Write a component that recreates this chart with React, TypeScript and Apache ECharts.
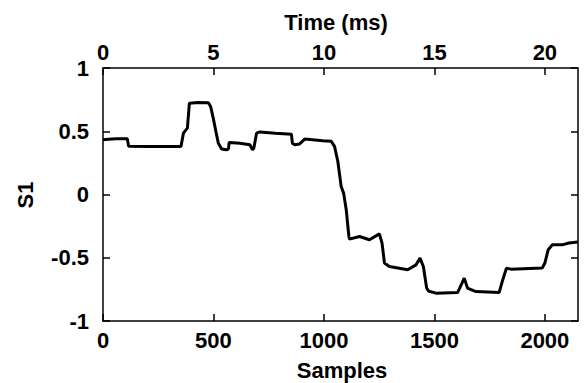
import React, { useEffect, useRef } from "react";
import * as echarts from "echarts";

const samples = [
  0, 40, 60, 110, 116, 200, 353, 364, 382, 391, 430, 477, 487, 499, 511, 522, 537, 559, 568, 571,
  620, 665, 677, 683, 695, 710, 780, 853, 857, 868, 890, 913, 995, 1033, 1048, 1063, 1078, 1089,
  1101, 1113, 1116, 1161, 1206, 1251, 1263, 1274, 1296, 1379, 1417, 1435, 1450, 1465, 1475, 1507,
  1605, 1625, 1635, 1650, 1688, 1793, 1805, 1826, 1846, 1988, 2000, 2015, 2034, 2078, 2109, 2150,
];
const s1Values = [
  0.432, 0.438, 0.44, 0.44, 0.382, 0.38, 0.38, 0.485, 0.525, 0.722, 0.728, 0.725, 0.696, 0.604,
  0.498, 0.406, 0.359, 0.353, 0.36, 0.411, 0.405, 0.393, 0.353, 0.37, 0.485, 0.495, 0.485, 0.477,
  0.406, 0.393, 0.4, 0.438, 0.425, 0.42, 0.38, 0.261, 0.063, 0.011, -0.121, -0.332, -0.353, -0.332,
  -0.358, -0.311, -0.384, -0.542, -0.569, -0.595, -0.556, -0.503, -0.569, -0.74, -0.765, -0.78,
  -0.775, -0.7, -0.661, -0.74, -0.767, -0.775, -0.7, -0.582, -0.59, -0.582, -0.542, -0.437, -0.398,
  -0.398, -0.384, -0.376,
];
const sampleRange = [0, 2150];
const timeRange = [0, 21.5];
const s1Range = [-1, 1];

const FONT = "'Liberation Sans', Arial, Helvetica, sans-serif";
const labelStyle = { color: "#000", fontFamily: FONT, fontWeight: "bold" as const, fontSize: 22 };
const lineStyle = { color: "#000", width: 1.5 };
const plain = (v: number) => String(v);

export default function App() {
  const ref = useRef<HTMLDivElement>(null);
  useEffect(() => {
    if (!ref.current) return;
    const chart = echarts.init(ref.current, null, { renderer: "svg" });
    const data = samples.map((s, i) => [s, s1Values[i]]);
    chart.setOption({
      animation: false,
      backgroundColor: "#fff",
      grid: { left: 103, right: 7, top: 68, bottom: 62, containLabel: false },
      xAxis: [
        {
          type: "value",
          position: "bottom",
          min: sampleRange[0],
          max: sampleRange[1],
          interval: 500,
          axisLine: { show: true, onZero: false, lineStyle },
          axisTick: { show: true, inside: true, length: 7, lineStyle },
          axisLabel: { ...labelStyle, margin: 8, showMaxLabel: false, formatter: plain },
          splitLine: { show: false },
        },
        {
          type: "value",
          position: "top",
          min: timeRange[0],
          max: timeRange[1],
          interval: 5,
          axisLine: { show: true, onZero: false, lineStyle },
          axisTick: { show: true, inside: true, length: 7, lineStyle },
          axisLabel: { ...labelStyle, margin: 5, showMaxLabel: false, formatter: plain },
          splitLine: { show: false },
        },
      ],
      yAxis: [
        {
          type: "value",
          position: "left",
          min: s1Range[0],
          max: s1Range[1],
          interval: 0.5,
          axisLine: { show: true, onZero: false, lineStyle },
          axisTick: { show: true, inside: true, length: 7, lineStyle },
          axisLabel: { ...labelStyle, margin: 14, formatter: plain },
          splitLine: { show: false },
        },
        {
          type: "value",
          position: "right",
          min: s1Range[0],
          max: s1Range[1],
          interval: 0.5,
          axisLine: { show: true, onZero: false, lineStyle },
          axisTick: { show: true, inside: true, length: 7, lineStyle },
          axisLabel: { show: false },
          splitLine: { show: false },
        },
      ],
      series: [
        {
          type: "line",
          xAxisIndex: 0,
          yAxisIndex: 0,
          data,
          showSymbol: false,
          symbol: "none",
          lineStyle: { color: "#000", width: 3 },
        },
      ],
      graphic: [
        {
          type: "text",
          x: 336,
          y: 22,
          style: { text: "Time (ms)", fill: "#000", font: `bold 22px ${FONT}`, textAlign: "center", textVerticalAlign: "middle" },
        },
        {
          type: "text",
          x: 342,
          y: 370,
          style: { text: "Samples", fill: "#000", font: `bold 22px ${FONT}`, textAlign: "center", textVerticalAlign: "middle" },
        },
        {
          type: "text",
          x: 25,
          y: 195,
          rotation: Math.PI / 2,
          style: { text: "S1", fill: "#000", font: `bold 22px ${FONT}`, textAlign: "center", textVerticalAlign: "middle" },
        },
      ],
    });
    return () => chart.dispose();
  }, []);
  return <div ref={ref} style={{ width: 585, height: 383, position: "absolute", left: 0, top: 0 }} />;
}
